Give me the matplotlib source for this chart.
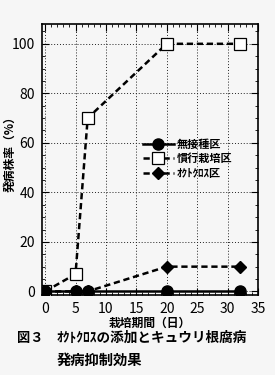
import matplotlib.pyplot as plt
from matplotlib.ticker import MultipleLocator

plt.rcParams['font.family'] = ['Noto Sans CJK JP', 'DejaVu Sans']

# 栽培期間（日）
days = [0, 5, 7, 20, 32]
# 発病株率（%）
mock = [0, 0, 0, 0, 0]           # 無接種区
conventional = [0, 7, 70, 100, 100]  # 慣行栽培区
octocross = [0, 0, 0, 10, 10]    # ｵｸﾄｸﾛｽ区

xticks = [0, 5, 10, 15, 20, 25, 30, 35]
yticks = [0, 20, 40, 60, 80, 100]

fig = plt.figure(figsize=(2.75, 3.75), dpi=100, facecolor='#f6f6f6')
ax = fig.add_axes([0.153, 0.213, 0.785, 0.723])
ax.set_facecolor('#f6f6f6')

ax.plot(days, octocross, 'k--', marker='D', markersize=6, lw=1.8,
        dashes=(2.5, 1.5), label='ｵｸﾄｸﾛｽ区', zorder=3)
ax.plot(days, conventional, 'k--', marker='s', markersize=8, lw=1.8,
        dashes=(2.5, 1.5), markerfacecolor='white', markeredgewidth=0.9,
        label='慣行栽培区', zorder=4)
ax.plot(days, mock, 'k-', marker='o', markersize=8, lw=1.8,
        label='無接種区', zorder=5)

ax.set_xlim(-0.5, 35)
ax.set_ylim(-1.5, 108)
ax.set_xticks(xticks)
ax.set_yticks(yticks)
ax.xaxis.set_minor_locator(MultipleLocator(1))
ax.yaxis.set_minor_locator(MultipleLocator(5))
ax.tick_params(which='both', direction='in', top=True, right=True,
               labelsize=10)
ax.tick_params(axis='y', pad=5)
ax.tick_params(axis='x', pad=5)
ax.tick_params(which='major', length=5, width=0.8)
ax.tick_params(which='minor', length=2.5, width=0.6)
ax.grid(True, which='major', linestyle=(0, (1, 2)), color='#222222', lw=0.7)
for s in ax.spines.values():
    s.set_linewidth(1.2)

ax.set_ylabel('発病株率（%）', fontsize=8.5, fontweight='bold')
ax.yaxis.set_label_coords(-0.148, 0.53)
ax.set_xlabel('栽培期間（日）', fontsize=8.5, fontweight='bold')
ax.xaxis.set_label_coords(0.5, -0.103)
ax.xaxis.label.set_va('center')
ax.yaxis.label.set_va('center')

h, l = ax.get_legend_handles_labels()
ax.legend(h[::-1], l[::-1], loc='upper left', bbox_to_anchor=(0.44, 0.6),
          frameon=False, prop={'size': 8, 'weight': 'bold'},
          handlelength=2.8, handletextpad=0.3,
          labelspacing=0.12, borderpad=0)

fig.text(0.062, 0.088, '図３', fontsize=9.5, fontweight='bold')
fig.text(0.205, 0.088, 'ｵｸﾄｸﾛｽの添加とキュウリ根腐病', fontsize=9.8, fontweight='bold')
fig.text(0.205, 0.026, '発病抑制効果', fontsize=10.3, fontweight='bold')

fig.savefig('out.png', dpi=100, facecolor=fig.get_facecolor())
